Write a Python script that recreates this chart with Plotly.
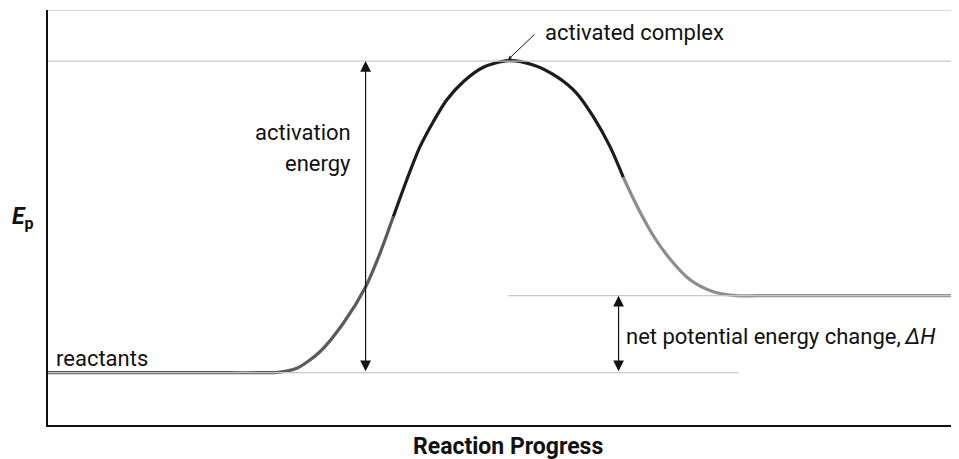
import plotly.graph_objects as go

# ---- data ----
progress = [0, 10, 20, 24.0, 25.13, 27.33, 29.89, 32.45, 34.91, 36.48, 37.95, 39.42, 40.88,
            42.34, 43.81, 45.64, 47.84, 50.58, 53.33, 55.90, 58.10, 59.92, 61.76, 63.22,
            64.69, 66.52, 68.35, 70.55, 73.11, 75.68, 78, 85, 100]
energy = [12.6, 12.6, 12.6, 12.6, 12.65, 13.66, 17.66, 24.51, 33.33, 41.37, 50.22, 59.04,
          67.07, 73.09, 78.31, 82.72, 86.19, 87.78, 86.75, 83.93, 79.93, 74.29, 67.07,
          59.69, 52.9, 45.6, 40.0, 35.0, 32.12, 31.16, 31.16, 31.16, 31.16]

reactant_level = 12.6
peak_level = 87.7
product_level = 31.16
peak_progress = 50.58
reactant_line_end = 75.9
ea_arrow_x = 34.9
dh_arrow_x = 62.7

seg_colors = ["#5b5b5b", "#1c1c1c", "#8d8d8d"]
seg_bounds = [(0, 10), (10, 23), (23, len(progress) - 1)]

FONT = "Roboto"

fig = go.Figure()

# reference lines
fig.add_shape(type="line", x0=0, x1=100, y0=100, y1=100, xref="x", yref="y",
              line=dict(color="#c8c8c8", width=1.5))
fig.add_shape(type="line", x0=0, x1=100, y0=peak_level, y1=peak_level, xref="x", yref="y",
              line=dict(color="#c8c8c8", width=1.2))
fig.add_shape(type="line", x0=peak_progress, x1=100, y0=product_level, y1=product_level,
              xref="x", yref="y", line=dict(color="#c8c8c8", width=1.2))
fig.add_shape(type="line", x0=0, x1=reactant_line_end, y0=reactant_level, y1=reactant_level,
              xref="x", yref="y", line=dict(color="#c8c8c8", width=1.2))

for (a, b), c in zip(seg_bounds, seg_colors):
    fig.add_trace(go.Scatter(x=progress[a:b + 1], y=energy[a:b + 1], mode="lines",
                             line=dict(color=c, width=3.2, shape="spline", smoothing=0.8),
                             hoverinfo="skip", showlegend=False))

ann = []
arrow_kw = dict(xref="x", yref="y", axref="x", ayref="y", text="", showarrow=True,
                arrowhead=2, arrowside="end+start", arrowsize=1.8, arrowwidth=1.2,
                arrowcolor="#111", standoff=0, startstandoff=0, startarrowhead=2,
                startarrowsize=1.8)
# activation energy arrow
ann.append(dict(x=ea_arrow_x, y=peak_level, ax=ea_arrow_x, ay=reactant_level, **arrow_kw))
# delta H arrow
ann.append(dict(x=dh_arrow_x, y=product_level, ax=dh_arrow_x, ay=reactant_level, **arrow_kw))
# activated complex pointer
ann.append(dict(x=peak_progress, y=peak_level + 0.4, ax=53.6, ay=94.4,
                xref="x", yref="y", axref="x", ayref="y", text="", showarrow=True,
                arrowhead=2, arrowsize=0.7, arrowwidth=1, arrowcolor="#111", standoff=0))

tf = dict(family=FONT, size=22, color="#111")
ann.append(dict(x=54.4, y=94.6, xref="x", yref="y", text="activated complex",
                showarrow=False, xanchor="left", yanchor="middle", font=tf))
ann.append(dict(x=33.5, y=70.4, xref="x", yref="y", text="activation",
                showarrow=False, xanchor="right", yanchor="middle", font=tf))
ann.append(dict(x=33.5, y=63.0, xref="x", yref="y", text="energy",
                showarrow=False, xanchor="right", yanchor="middle", font=tf))
ann.append(dict(x=0.7, y=16.0, xref="x", yref="y", text="reactants",
                showarrow=False, xanchor="left", yanchor="middle", font=tf))
ann.append(dict(x=100.1, y=34.3, xref="x", yref="y", text="products",
                showarrow=False, xanchor="right", yanchor="middle", font=tf))
ann.append(dict(x=63.3, y=21.4, xref="x", yref="y",
                text="net potential energy change,\u2009<i>\u0394H</i>",
                showarrow=False, xanchor="left", yanchor="middle", font=tf))
# axis titles
ann.append(dict(x=0.505, y=-0.088, xref="paper", yref="paper", text="<b>Reaction Progress</b>",
                showarrow=False, xanchor="center", yanchor="bottom",
                font=dict(family=FONT, size=23, color="#111")))
ann.append(dict(x=-0.028, y=0.5, xref="paper", yref="paper", text="<b><i>E</i><sub>p</sub></b>",
                showarrow=False, xanchor="center", yanchor="middle",
                font=dict(family=FONT, size=23, color="#111")))

# page body adds an 8px offset, so the figure is sized to fit the remaining window
fig.update_layout(
    width=951, height=451,
    margin=dict(l=40, r=1, t=2, b=34, autoexpand=False),
    paper_bgcolor="white", plot_bgcolor="white",
    annotations=ann,
    xaxis=dict(range=[0, 100], showgrid=False, zeroline=False, showticklabels=False,
               ticks="", showline=True, linecolor="#111", linewidth=1.6, fixedrange=True),
    yaxis=dict(range=[0, 100], showgrid=False, zeroline=False, showticklabels=False,
               ticks="", showline=True, linecolor="#111", linewidth=1.6, fixedrange=True),
)

fig.write_html("out.html")
